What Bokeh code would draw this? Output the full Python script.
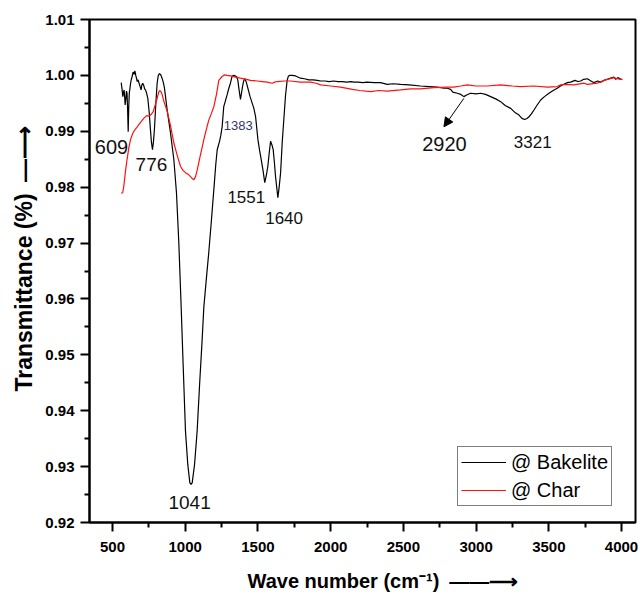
from bokeh.embed import file_html
from bokeh.models import (Arrow, FixedTicker, Label, Legend, LegendItem,
                          NormalHead, PrintfTickFormatter, Range1d, Title)
from bokeh.plotting import figure
from bokeh.resources import INLINE

# FTIR spectra: wave number (cm^-1) and transmittance
bakelite_wn = [
    560, 566, 571, 576, 580, 584, 587, 592, 596, 600, 604, 608, 612, 616, 619,
    624, 628, 635, 642, 648, 654, 660, 665, 670, 676, 683, 690, 697, 702, 708,
    715, 721, 727, 735, 743, 752, 761, 768, 775, 782, 789, 797, 807, 815, 823,
    832, 841, 849, 857, 876, 899, 922, 940, 956, 972, 986, 1002, 1018,
    1032, 1040, 1048, 1064, 1082, 1100, 1115, 1128, 1145, 1162, 1180, 1197, 1210,
    1220, 1236, 1245, 1254, 1265, 1277, 1288, 1300, 1311, 1323, 1335, 1346,
    1355, 1362, 1370, 1380, 1387, 1394, 1402, 1410, 1420, 1431, 1446, 1461,
    1472, 1484, 1500, 1512, 1523, 1535, 1547, 1557, 1568, 1578, 1587, 1596,
    1605, 1613, 1621, 1630, 1637, 1646, 1656, 1667, 1678, 1690, 1701, 1710,
    1720, 1735, 1759, 1793, 1820, 1850, 1880, 1908,
    1931, 1960, 1990, 2020, 2050, 2080, 2110, 2140, 2160, 2190, 2220, 2250, 2300,
    2343, 2389, 2430, 2481, 2540, 2618, 2680, 2733, 2780, 2802, 2825, 2840, 2871,
    2895, 2916, 2935, 2962, 3000, 3031, 3065, 3100, 3135, 3169, 3200, 3238, 3270,
    3295, 3315, 3334, 3350, 3364, 3380, 3398, 3420, 3444, 3470, 3501, 3530, 3558,
    3580, 3604, 3627, 3650, 3680, 3700, 3719, 3740, 3765, 3790, 3811, 3835, 3857,
    3880, 3902, 3925, 3948, 3960, 3975, 3994, 4005,
]
bakelite_t = [
    0.9987, 0.9975, 0.9962, 0.9970, 0.9974, 0.9960, 0.9947, 0.9958, 0.9972, 0.9968,
    0.9940, 0.9899, 0.9945, 0.9970, 0.9974, 0.9985, 0.9991, 0.9998, 1.0006, 1.0002,
    1.0008, 1.0000, 0.9995, 0.9989, 0.9992, 0.9986, 0.9980, 0.9974, 0.9983, 0.9986,
    0.9982, 0.9976, 0.9974, 0.9968, 0.9959, 0.9935, 0.9903, 0.9880, 0.9867, 0.9882,
    0.9906, 0.9945, 0.9986, 1.0000, 1.0003, 1.0001, 0.9995, 0.9988, 0.9978, 0.9938,
    0.9897, 0.9849, 0.9790, 0.9701, 0.9588, 0.9481, 0.9363, 0.9303,
    0.9271, 0.9268, 0.9271, 0.9303, 0.9363, 0.9452, 0.9520, 0.9585, 0.9635, 0.9683,
    0.9740, 0.9796, 0.9840, 0.9867, 0.9882, 0.9893, 0.9908, 0.9944, 0.9955, 0.9965,
    0.9977, 0.9986, 0.9999, 1.0000, 0.9999, 0.9997, 0.9991, 0.9975, 0.9957,
    0.9968, 0.9980, 0.9990, 0.9994, 0.9988, 0.9977, 0.9962, 0.9950, 0.9941,
    0.9926, 0.9885, 0.9865, 0.9849, 0.9830, 0.9808, 0.9820, 0.9837, 0.9862,
    0.9882, 0.9876, 0.9867, 0.9845, 0.9819, 0.9798, 0.9781, 0.9800, 0.9826,
    0.9880, 0.9921, 0.9965, 0.9991, 0.9999, 1.0000, 1.0000, 0.9999, 0.9995,
    0.9994, 0.9992, 0.9992, 0.9991,
    0.9990, 0.9990, 0.9989, 0.9990, 0.9989, 0.9989, 0.9988, 0.9989, 0.9988, 0.9988,
    0.9987, 0.9988, 0.9987, 0.9987, 0.9984, 0.9985, 0.9984, 0.9983, 0.9981, 0.9980,
    0.9979, 0.9977, 0.9977, 0.9975, 0.9970, 0.9968, 0.9966, 0.9962, 0.9965, 0.9968,
    0.9967, 0.9968, 0.9966, 0.9962, 0.9958, 0.9953, 0.9946, 0.9941, 0.9933, 0.9929,
    0.9923, 0.9921, 0.9923, 0.9926, 0.9931, 0.9938, 0.9947, 0.9956, 0.9962, 0.9968,
    0.9973, 0.9977, 0.9981, 0.9984, 0.9987, 0.9988, 0.9991, 0.9989, 0.9990, 0.9993,
    0.9994, 0.9990, 0.9987, 0.9990, 0.9988, 0.9991, 0.9993, 0.9995, 0.9997, 0.9993,
    0.9996, 0.9993, 0.9993,
]

char_wn = [
    560, 570, 578, 590, 600, 612, 624, 640, 655, 670, 690, 715, 735, 750, 765,
    780, 795, 807, 818, 825, 833, 841, 852, 864, 876, 899, 922, 945, 968,
    985, 1002, 1025, 1040, 1050, 1059, 1070, 1082, 1100, 1128, 1145, 1162,
    1180, 1197, 1215, 1231, 1254, 1270, 1288, 1311, 1345, 1380, 1420, 1449,
    1495, 1530, 1564, 1580, 1598, 1615, 1633, 1680, 1724, 1793, 1862, 1900, 1931,
    2000, 2068, 2150, 2200, 2275, 2330, 2389, 2481, 2550, 2618, 2710, 2800, 2847,
    2894, 2940, 3000, 3077, 3169, 3250, 3306, 3398, 3490, 3558, 3582, 3604, 3673,
    3742, 3765, 3833, 3879, 3948, 3970, 3994, 4005,
]
char_t = [
    0.9789, 0.9790, 0.9802, 0.9830, 0.9849, 0.9870, 0.9885, 0.9897, 0.9903, 0.9908,
    0.9915, 0.9923, 0.9928, 0.9927, 0.9930, 0.9935, 0.9948, 0.9959, 0.9970, 0.9973,
    0.9971, 0.9966, 0.9955, 0.9945, 0.9936, 0.9910, 0.9879, 0.9857, 0.9837,
    0.9830, 0.9826, 0.9822, 0.9818, 0.9815, 0.9813, 0.9818, 0.9830, 0.9852, 0.9885,
    0.9903, 0.9920, 0.9932, 0.9944, 0.9966, 0.9991, 0.9998, 1.0001, 1.0000, 0.9999,
    0.9997, 0.9995, 0.9993, 0.9991,
    0.9990, 0.9989, 0.9988, 0.9987, 0.9986, 0.9988, 0.9989, 0.9990, 0.9990, 0.9988,
    0.9988, 0.9986, 0.9983, 0.9981,
    0.9979, 0.9975, 0.9973, 0.9971, 0.9973, 0.9972, 0.9974, 0.9976, 0.9976, 0.9978,
    0.9979, 0.9979, 0.9981, 0.9983, 0.9981, 0.9981, 0.9983, 0.9981, 0.9980, 0.9981,
    0.9979, 0.9980, 0.9983, 0.9984, 0.9983, 0.9986, 0.9984, 0.9986, 0.9991, 0.9996,
    0.9994, 0.9993, 0.9993,
]

series_names = ["@ Bakelite", "@ Char"]

# Peak annotations: wave number label, text position, font size
peak_labels = ["609", "776", "1383", "1551", "1640", "1041", "2920", "3321"]
peak_text_x = [493, 768, 1365, 1420, 1680, 1030, 2782, 3389]
peak_text_y = [0.98714, 0.98403, 0.99100, 0.97833, 0.97447, 0.92354, 0.98767, 0.98817]
peak_font = ["20px", "19px", "13px", "17px", "17px", "19px", "20px", "17px"]
peak_color = ["#111111", "#111111", "#35356a", "#111111", "#111111", "#111111", "#111111", "#111111"]

x_ticks = [500, 1000, 1500, 2000, 2500, 3000, 3500, 4000]
x_minor = [750, 1250, 1750, 2250, 2750, 3250, 3750]
y_ticks = [0.92, 0.93, 0.94, 0.95, 0.96, 0.97, 0.98, 0.99, 1.00, 1.01]
y_minor = [0.925, 0.935, 0.945, 0.955, 0.965, 0.975, 0.985, 0.995, 1.005]

x_title = "Wave number (cm\u207b\u00b9)\u2002\u2014\u2014\u27f6"
y_title = "Transmittance (%)\u2002\u2014\u27f6"

FONT = "Liberation Sans"

p = figure(width=640, height=608, output_backend="svg", toolbar_location=None,
           x_range=Range1d(342, 4096), y_range=Range1d(0.92, 1.01),
           min_border_left=89, min_border_right=5, min_border_top=19,
           min_border_bottom=85)
p.background_fill_color = "white"
p.border_fill_color = "white"
p.xgrid.visible = False
p.ygrid.visible = False
p.outline_line_color = "black"
p.outline_line_width = 2

black = p.line(bakelite_wn, bakelite_t, line_color="black", line_width=1.2)
red = p.line(char_wn, char_t, line_color="#ff1010", line_width=1.2)

for ax, ticks, minor in ((p.xaxis[0], x_ticks, x_minor), (p.yaxis[0], y_ticks, y_minor)):
    ax.ticker = FixedTicker(ticks=ticks, minor_ticks=minor)
    ax.axis_line_width = 2
    ax.major_tick_line_width = 2
    ax.minor_tick_line_width = 2
    ax.major_tick_in = 0
    ax.major_tick_out = 9
    ax.minor_tick_in = 0
    ax.minor_tick_out = 5
    ax.major_label_text_font = FONT
    ax.major_label_text_font_style = "bold"
    ax.major_label_text_font_size = "15px"
    ax.major_label_text_color = "black"
p.xaxis[0].major_label_standoff = 10
p.yaxis[0].major_label_standoff = 6
p.yaxis[0].formatter = PrintfTickFormatter(format="%.2f")

# Axis titles, each followed by a direction arrow
p.add_layout(Title(text=x_title, align="left", offset=158, standoff=30,
                   vertical_align="top",
                   text_font=FONT, text_font_style="bold",
                   text_font_size="20px", text_color="black"), "below")
p.add_layout(Title(text=y_title, align="left", offset=131, standoff=12,
                   text_font=FONT, text_font_style="bold",
                   text_font_size="23px", text_color="black"), "left")

# Peak labels
for lab, tx, ty, fs, col in zip(peak_labels, peak_text_x, peak_text_y, peak_font, peak_color):
    p.add_layout(Label(x=tx, y=ty, text=lab, text_align="center",
                       text_baseline="middle", text_font=FONT,
                       text_font_size=fs, text_color=col))

# Pointer to the weak 2920 band
p.add_layout(Arrow(x_start=2916, y_start=0.9959, x_end=2779, y_end=0.9908,
                   line_width=1, line_color="black",
                   end=NormalHead(size=9, fill_color="black", line_color="black")))

legend = Legend(items=[LegendItem(label=series_names[0], renderers=[black]),
                       LegendItem(label=series_names[1], renderers=[red])],
                location=(368, 16))
legend.label_text_font = FONT
legend.label_text_font_size = "20px"
legend.label_text_color = "black"
legend.label_height = 24
legend.glyph_height = 24
legend.glyph_width = 45
legend.label_standoff = 5
legend.spacing = 4
legend.padding = 3
legend.margin = 0
legend.border_line_color = "black"
legend.border_line_width = 1
legend.background_fill_alpha = 1
p.add_layout(legend)

open("out.html", "w").write(file_html(p, INLINE))
